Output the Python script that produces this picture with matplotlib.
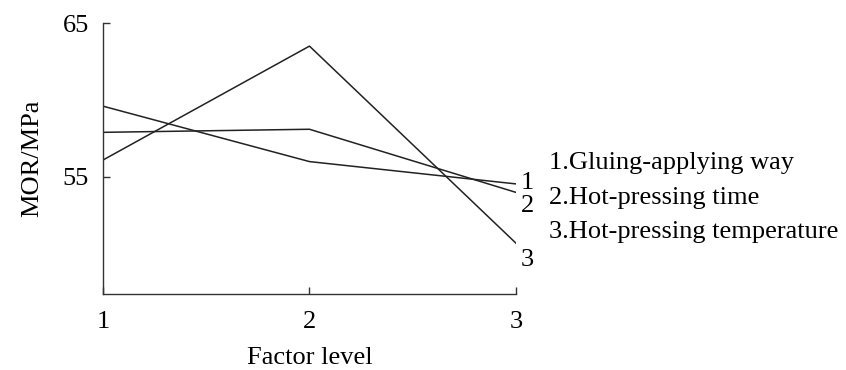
import matplotlib
matplotlib.use("Agg")
from matplotlib import pyplot as plt

levels = [1, 2, 3]
gluing_way = [59.6, 56.0, 54.55]
pressing_time = [57.9, 58.1, 54.0]
pressing_temp = [56.1, 63.5, 50.7]
series_names = ["1.Gluing-applying way", "2.Hot-pressing time", "3.Hot-pressing temperature"]

plt.rcParams['font.family'] = ['Liberation Serif', 'DejaVu Serif']
plt.rcParams['font.size'] = 19

fig = plt.figure(figsize=(8.46, 3.70), dpi=100)
ax = fig.add_axes([0.1217, 0.2054, 0.4882, 0.7324])

series = [gluing_way, pressing_time, pressing_temp]
# label offsets next to line ends (points)
offsets = [(8, 1), (8, -10), (8, -12)]
for i, vals in enumerate(series):
    ax.plot(levels, vals, color='#222222', lw=1.1)
    ax.annotate(str(i + 1), (levels[-1], vals[-1]), xytext=offsets[i],
                textcoords='offset points', va='center', ha='center',
                annotation_clip=False)

ax.set_xlim(1, 3)
ax.set_ylim(47.4, 65)
ax.set_xticks(levels)
ax.set_yticks([55, 65])
ax.spines['top'].set_visible(False)
ax.spines['right'].set_visible(False)
for s in ['left', 'bottom']:
    ax.spines[s].set_color('#333333')
    ax.spines[s].set_linewidth(1.0)
ax.tick_params(direction='in', length=5, width=1.0, color='#333333')
ax.tick_params(axis='x', pad=12)
ax.tick_params(axis='y', pad=10)

ax.set_xlabel('Factor level', labelpad=10)
ax.set_ylabel('MOR/MPa', labelpad=14)

for i, name in enumerate(series_names):
    fig.text(0.649, 0.5595 - i * 0.0935, name, va='center', ha='left')

fig.savefig('out.png', dpi=100)
